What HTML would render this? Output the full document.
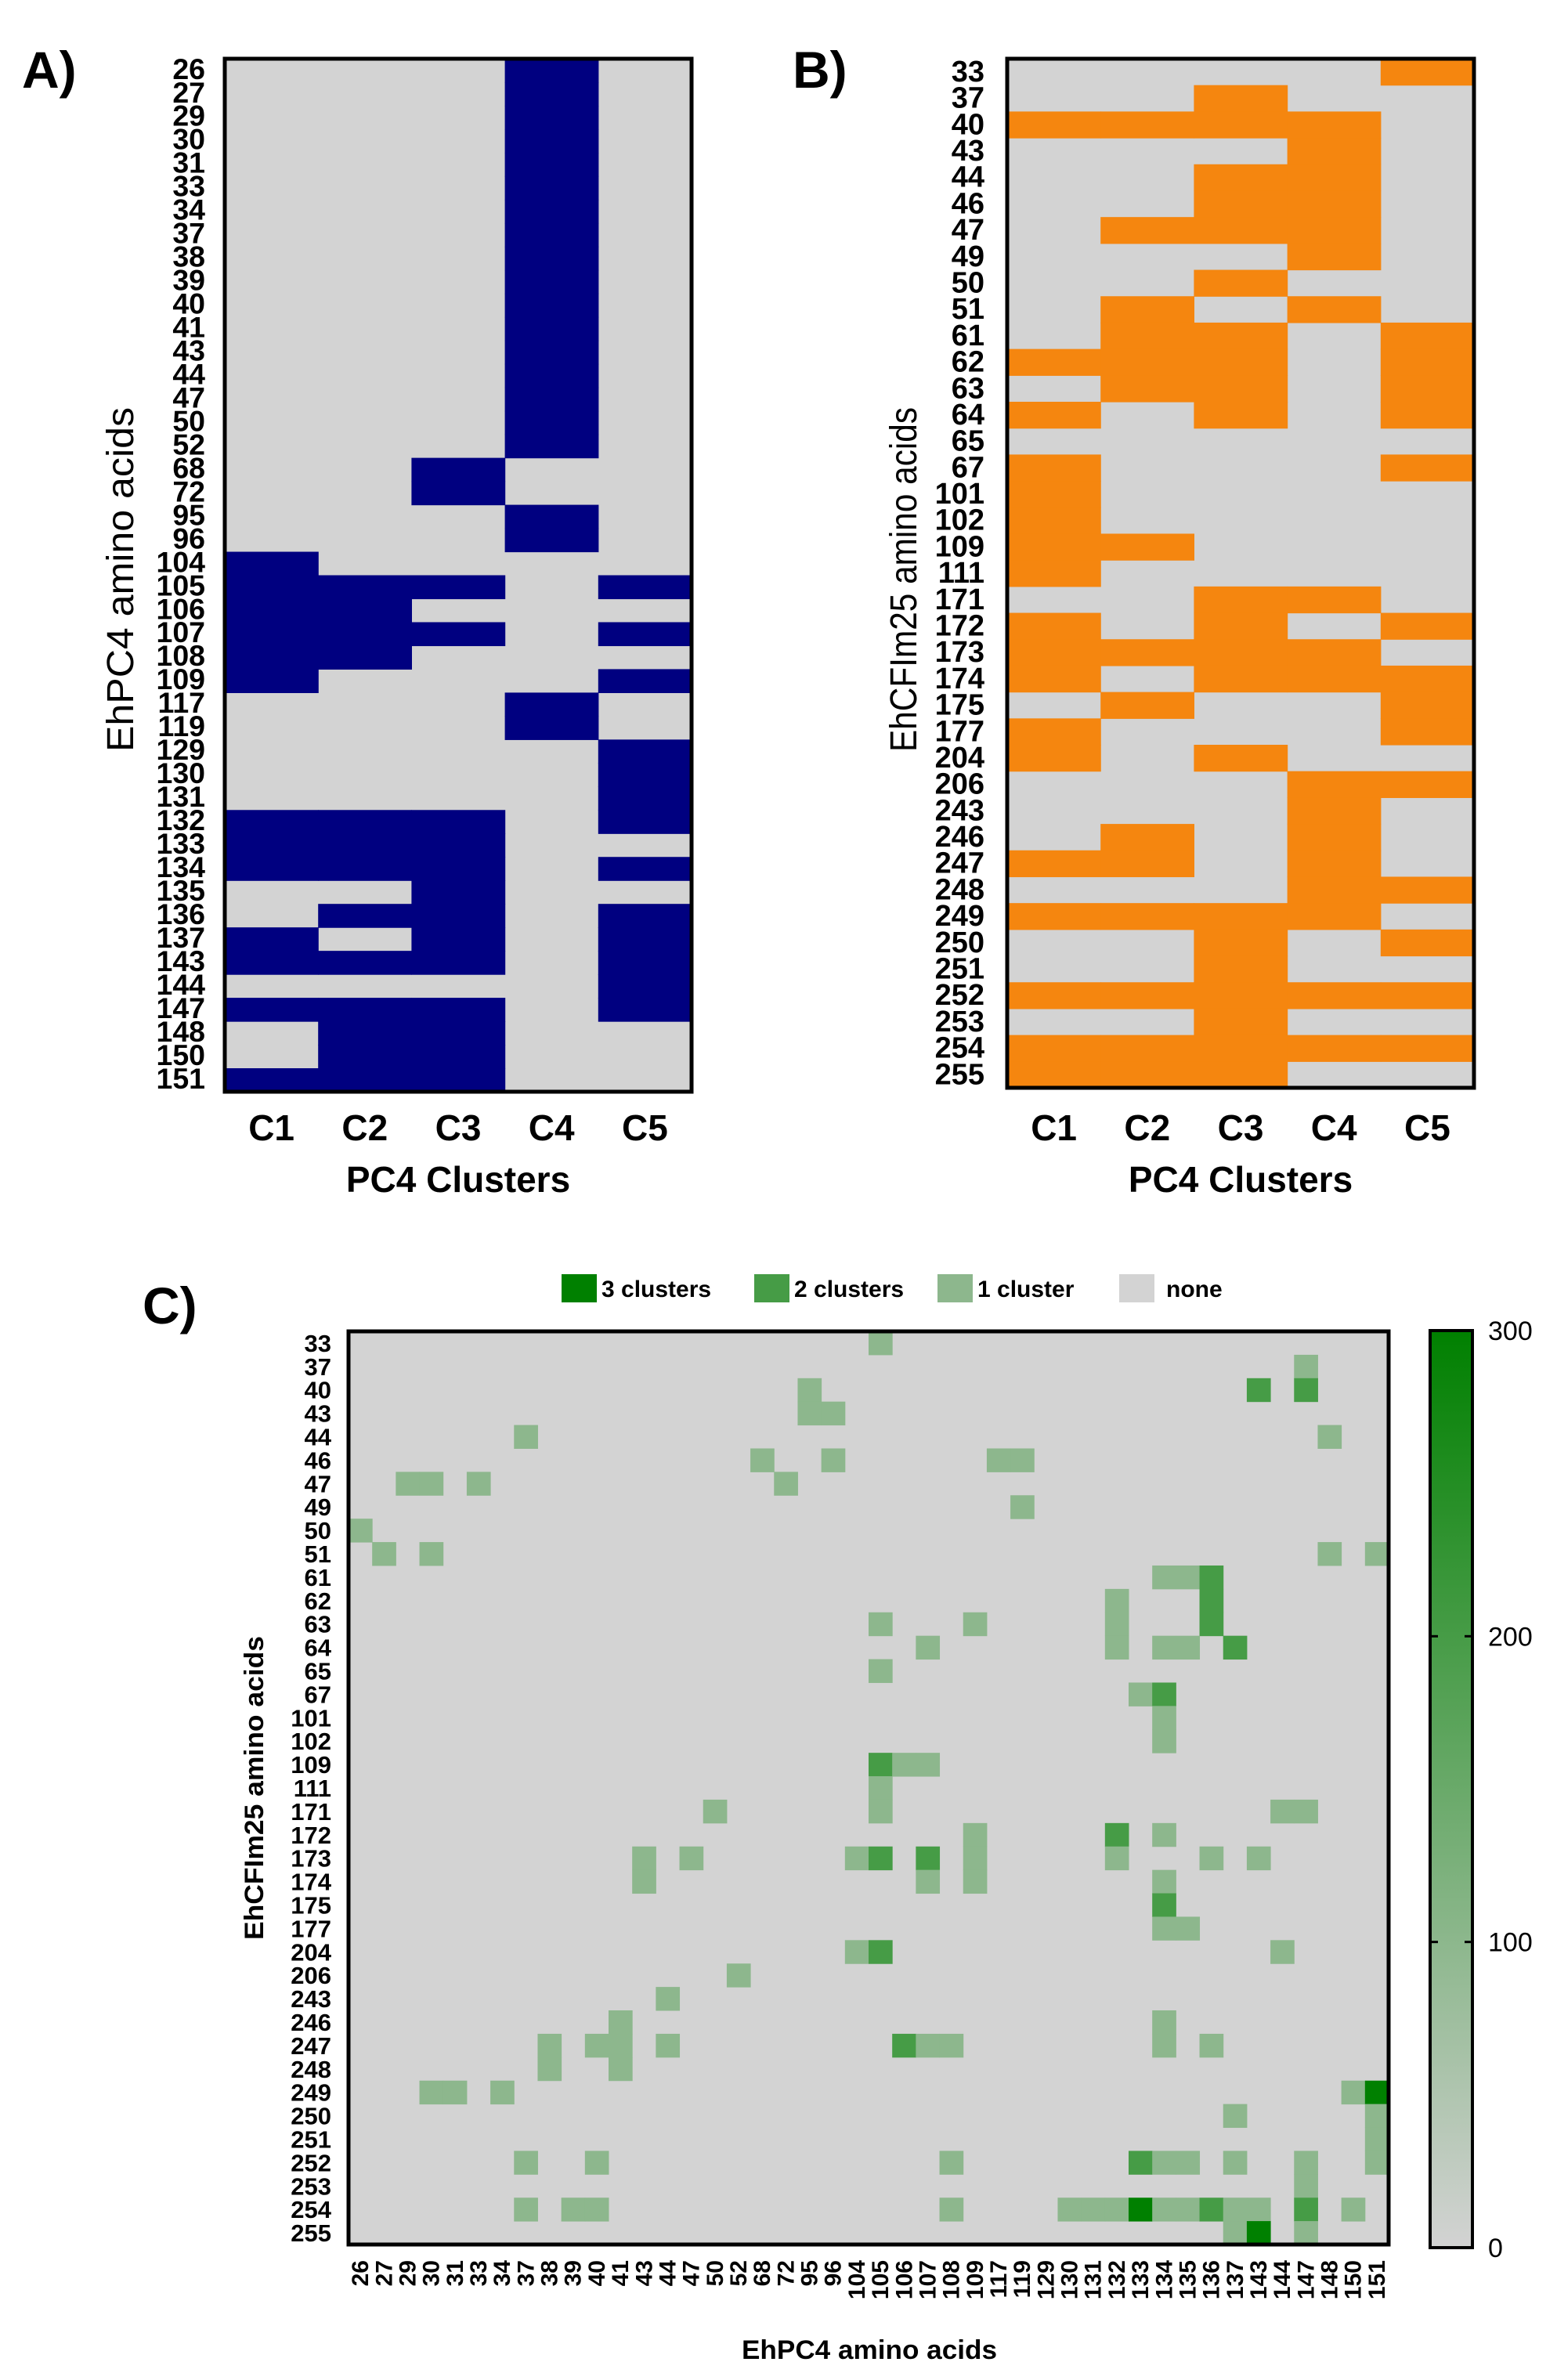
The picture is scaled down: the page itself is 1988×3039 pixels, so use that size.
<!DOCTYPE html>
<html><head><meta charset="utf-8"><style>
html,body{margin:0;padding:0;background:#fff;}
svg{display:block;font-family:"Liberation Sans",Arial,sans-serif;}
</style></head><body>
<svg id="fig" xmlns="http://www.w3.org/2000/svg" width="1988" height="3039" viewBox="0 0 1988 3039">
<rect x="0" y="0" width="1988" height="3039" fill="#fff"/>
<text x="28" y="112" font-size="66" font-weight="bold">A)</text>
<text x="1012" y="112" font-size="66" font-weight="bold">B)</text>
<text x="182" y="1690" font-size="66" font-weight="bold">C)</text>
<g id="pa"></g>
<g id="pb"></g>
<g id="pc"></g>
</svg>
<script>
const NS="http://www.w3.org/2000/svg";
const clusters=["C1","C2","C3","C4","C5"];
const pc4Rows=["26","27","29","30","31","33","34","37","38","39","40","41","43","44","47","50","52","68","72","95","96","104","105","106","107","108","109","117","119","129","130","131","132","133","134","135","136","137","143","144","147","148","150","151"];
const pc4Members=[
[4],[4],[4],[4],[4],[4],[4],[4],[4],[4],[4],[4],[4],[4],[4],[4],[4],
[3],[3],[4],[4],
[1],[1,2,3,5],[1,2],[1,2,3,5],[1,2],[1,5],
[4],[4],[5],[5],[5],
[1,2,3,5],[1,2,3],[1,2,3,5],[3],[2,3,5],[1,3,5],[1,2,3,5],[5],[1,2,3,5],[2,3],[2,3],[1,2,3]];
const cfimRows=["33","37","40","43","44","46","47","49","50","51","61","62","63","64","65","67","101","102","109","111","171","172","173","174","175","177","204","206","243","246","247","248","249","250","251","252","253","254","255"];
const cfimMembers=[
[5],[3],[1,2,3,4],[4],[3,4],[3,4],[2,3,4],[4],[3],[2,4],
[2,3,5],[1,2,3,5],[2,3,5],[1,3,5],[],[1,5],[1],[1],[1,2],[1],
[3,4],[1,3,5],[1,2,3,4],[1,3,4,5],[2,5],[1,5],[1,3],[4,5],[4],[2,4],[1,2,4],[4,5],[1,2,3,4],[3,5],[3],[1,2,3,4,5],[3],[1,2,3,4,5],[1,2,3]];
const cellRows=[
"33","37","40","40","40","43","43","44","44","46","46","46","46","47","47","47","47","49","50","51","51","51","51",
"61","61","61","62","62","63","63","63","63","64","64","64","64","64","65","67","67","101","102","109","109","109","111",
"171","171","171","171","172","172","172","173","173","173","173","173","173","173","173","173","174","174","174","174",
"175","177","177","204","204","204","206","243","246","246",
"247","247","247","247","247","247","247","247","247","248","248",
"249","249","249","249","249","250","250","251",
"252","252","252","252","252","252","252","252","252","253",
"254","254","254","254","254","254","254","254","254","254","254","254","254","254","254",
"255","255","255"];
const cellCols=[
"105","147","95","143","147","95","96","37","148","68","96","117","119","29","30","33","72","119","26","27","30","148","151",
"134","135","136","132","136","105","109","132","136","107","132","134","135","137","105","133","134","134","134","105","106","107","105",
"50","105","144","147","109","132","134","43","47","104","105","107","109","132","136","143","43","107","109","134",
"134","134","135","104","105","144","52","44","41","134",
"38","40","41","44","106","107","108","134","136","38","41",
"30","31","34","150","151","137","151","151",
"37","40","108","133","134","135","137","147","151","147",
"37","39","40","108","130","131","132","133","134","135","136","137","143","147","150",
"137","143","147"];
const cellValues=[
100,100,100,200,200,100,100,100,100,100,100,100,100,100,100,100,100,100,100,100,100,100,100,
100,100,200,100,200,100,100,100,200,100,100,100,100,200,100,100,200,100,100,200,100,100,100,
100,100,100,100,100,200,100,100,100,100,200,200,100,100,100,100,100,100,100,100,
200,100,100,100,200,100,100,100,100,100,
100,100,100,100,200,100,100,100,100,100,100,
100,100,100,100,300,100,100,100,
100,100,100,200,100,100,100,100,100,100,
100,100,100,100,100,100,100,300,100,100,200,100,100,200,100,
100,300,100];
const cbTicks=[0,100,200,300];
const legendLabels=["3 clusters","2 clusters","1 cluster","none"];
const legendValues=[300,200,100,0];

function el(tag,attrs,parent){const e=document.createElementNS(NS,tag);for(const k in attrs)e.setAttribute(k,attrs[k]);parent.appendChild(e);return e;}
function mix(v){const t=Math.max(0,Math.min(1,v/300));const a=[211,211,211],b=[0,128,0];return "rgb("+a.map((x,i)=>Math.round(x+(b[i]-x)*t)).join(",")+")";}

function membershipPanel(g,rows,members,box,color,labelRight,title,titleX,prefix){
  const colW=(box.x1-box.x0)/clusters.length, rowH=(box.y1-box.y0)/rows.length;
  const bg=el("rect",{x:box.x0,y:box.y0,width:box.x1-box.x0,height:box.y1-box.y0,fill:"#d3d3d3"},g);
  
  
  rows.forEach((r,i)=>{
    members[i].forEach(c=>{
      const cell=el("rect",{x:box.x0+(c-1)*colW,y:box.y0+i*rowH,width:colW+0.6,height:rowH+0.6,fill:color},g);
      
      
    });
    const t=el("text",{x:labelRight,y:box.y0+(i+0.5)*rowH+rowH*0.36,"text-anchor":"end","font-size":Math.min(38,rowH*1.25),"font-weight":"bold"},g);
    t.textContent=r;
    
    
  });
  const fr=el("rect",{x:box.x0,y:box.y0,width:box.x1-box.x0,height:box.y1-box.y0,fill:"none",stroke:"#000","stroke-width":5},g);
  
  
  clusters.forEach((c,j)=>{
    const t=el("text",{x:box.x0+(j+0.5)*colW,y:1456,"text-anchor":"middle","font-size":46,"font-weight":"bold"},g);
    t.textContent=c;
    
    
  });
  const xt=el("text",{x:(box.x0+box.x1)/2,y:1522,"text-anchor":"middle","font-size":46,"font-weight":"bold"},g);
  xt.textContent="PC4 Clusters";
  
  
  const yt=el("text",{x:0,y:0,"text-anchor":"middle","font-size":48,transform:"translate("+titleX+",740) rotate(-90)",textLength:440,lengthAdjust:"spacingAndGlyphs"},g);
  yt.textContent=title;
  
  
}
membershipPanel(document.getElementById("pa"),pc4Rows,pc4Members,{x0:287,x1:883,y0:75,y1:1394},"#000080",262,"EhPC4 amino acids",170,"panel-a");
membershipPanel(document.getElementById("pb"),cfimRows,cfimMembers,{x0:1286,x1:1882,y0:75,y1:1389},"#f5860f",1257,"EhCFIm25 amino acids",1170,"panel-b");

const gc=document.getElementById("pc");
const C={x0:445,x1:1773,y0:1700,y1:2866};
const cw=(C.x1-C.x0)/pc4Rows.length, ch=(C.y1-C.y0)/cfimRows.length;
function xPos(lbl){return C.x0+pc4Rows.indexOf(lbl)*cw;}
function yPos(lbl){return C.y0+cfimRows.indexOf(lbl)*ch;}
const cbg=el("rect",{x:C.x0,y:C.y0,width:C.x1-C.x0,height:C.y1-C.y0,fill:"#d3d3d3"},gc);


cellValues.forEach((v,i)=>{
  const r=el("rect",{x:xPos(cellCols[i]),y:yPos(cellRows[i]),width:cw+0.5,height:ch+0.5,fill:mix(v)},gc);
  
  
});
const cfr=el("rect",{x:C.x0,y:C.y0,width:C.x1-C.x0,height:C.y1-C.y0,fill:"none",stroke:"#000","stroke-width":5},gc);


cfimRows.forEach((r,i)=>{
  const t=el("text",{x:423,y:C.y0+(i+0.5)*ch+11,"text-anchor":"end","font-size":31,"font-weight":"bold"},gc);
  t.textContent=r;
  
  
});
pc4Rows.forEach((c,j)=>{
  const cx=C.x0+(j+0.5)*cw+10;
  const t=el("text",{x:0,y:0,"text-anchor":"end","font-size":30,"font-weight":"bold",transform:"translate("+cx+",2886) rotate(-90)"},gc);
  t.textContent=c;
  
  
});
const cxt=el("text",{x:1110,y:3012,"text-anchor":"middle","font-size":34,"font-weight":"bold",textLength:326,lengthAdjust:"spacingAndGlyphs"},gc);
cxt.textContent="EhPC4 amino acids";


const cyt=el("text",{x:0,y:0,"text-anchor":"middle","font-size":34,"font-weight":"bold",transform:"translate(336,2283) rotate(-90)",textLength:388,lengthAdjust:"spacingAndGlyphs"},gc);
cyt.textContent="EhCFIm25 amino acids";



const legX=[717,963,1197,1429];
legendLabels.forEach((l,i)=>{
  const s=el("rect",{x:legX[i],y:1627,width:45,height:36,fill:mix(legendValues[i])},gc);
  
  
  const t=el("text",{x:legX[i]+(i==3?60:51),y:1656,"font-size":30,"font-weight":"bold"},gc);
  t.textContent=l;
  
  
});

const defs=el("defs",{},gc);
const lg=el("linearGradient",{id:"cbg",x1:0,y1:1,x2:0,y2:0},defs);
el("stop",{offset:"0",["stop-color"]:mix(0)},lg);
el("stop",{offset:"1",["stop-color"]:mix(300)},lg);
const CB={x0:1826,x1:1880,y0:1699,y1:2870};
const cb=el("rect",{x:CB.x0,y:CB.y0,width:CB.x1-CB.x0,height:CB.y1-CB.y0,fill:"url(#cbg)",stroke:"#000","stroke-width":4},gc);


function cbY(v){return CB.y1-(v/300)*(CB.y1-CB.y0);}
cbTicks.forEach(v=>{
  const y=cbY(v);
  if(v>0&&v<300){
    const t1=el("line",{x1:CB.x0,x2:CB.x0+10,y1:y,y2:y,stroke:"#000","stroke-width":3},gc);
    
    
    const t2=el("line",{x1:CB.x1-10,x2:CB.x1,y1:y,y2:y,stroke:"#000","stroke-width":3},gc);
    
    
  }
  const t=el("text",{x:1900,y:y+12,"font-size":34},gc);
  t.textContent=String(v);
  
  
});
</script>
</body></html>
